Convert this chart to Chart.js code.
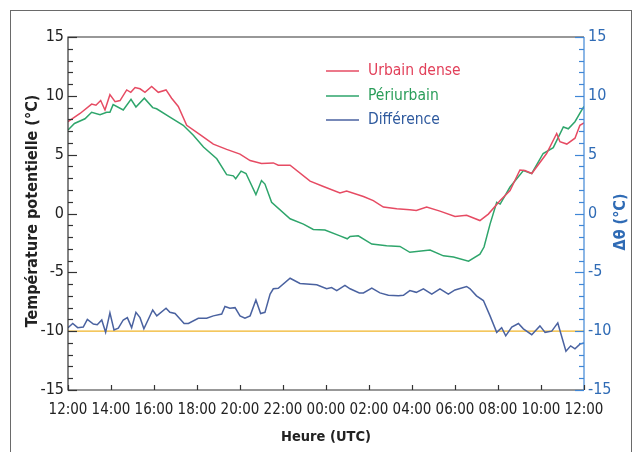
<!DOCTYPE html>
<html>
<head>
<meta charset="utf-8">
<script src="https://cdn.jsdelivr.net/npm/chart.js@4"></script>
<style>
  html, body { margin: 0; padding: 0; background: #fff; }
  #wrap { width: 636px; height: 452px; }
</style>
</head>
<body>
<div id="wrap"><canvas id="chart" width="636" height="452"></canvas></div>
<script>
// heures depuis 12:00 UTC
const tickHours = [0, 2, 4, 6, 8, 10, 12, 14, 16, 18, 20, 22, 24];
const tickLabels = ["12:00", "14:00", "16:00", "18:00", "20:00", "22:00", "00:00", "02:00", "04:00", "06:00", "08:00", "10:00", "12:00"];

const urbainHours = [0, 0.56, 1.1, 1.3, 1.52, 1.72, 1.95, 2.19, 2.42, 2.73, 2.92, 3.12, 3.35, 3.58, 3.89, 4.2, 4.56, 4.82, 5.13, 5.52, 6.14, 6.76, 7.38, 8.0, 8.47, 9.0, 9.55, 9.78, 10.33, 11.26, 11.88, 12.65, 12.96, 13.74, 14.2, 14.67, 15.29, 15.9, 16.2, 16.68, 17.3, 18.0, 18.54, 19.16, 19.55, 20.1, 20.56, 21.02, 21.25, 21.57, 22.26, 22.73, 22.88, 23.2, 23.58, 23.81, 24];
const urbainValues = [7.8, 8.5, 9.3, 9.2, 9.6, 8.8, 10.1, 9.5, 9.6, 10.5, 10.3, 10.7, 10.6, 10.3, 10.8, 10.3, 10.5, 9.8, 9.1, 7.5, 6.7, 5.9, 5.45, 5.05, 4.5, 4.25, 4.3, 4.1, 4.1, 2.75, 2.3, 1.75, 1.9, 1.45, 1.1, 0.55, 0.4, 0.32, 0.26, 0.55, 0.2, -0.25, -0.15, -0.6, -0.05, 1.1, 1.95, 3.7, 3.65, 3.4, 5.1, 6.8, 6.1, 5.9, 6.4, 7.5, 7.7];

const periHours = [0, 0.3, 0.79, 1.1, 1.49, 1.8, 1.95, 2.1, 2.57, 2.93, 3.16, 3.55, 3.94, 4.12, 4.74, 5.36, 5.83, 6.3, 6.92, 7.38, 7.69, 7.8, 8.05, 8.28, 8.74, 9.0, 9.16, 9.47, 10.33, 10.95, 11.41, 11.95, 12.65, 12.99, 13.12, 13.5, 14.13, 14.82, 15.44, 15.9, 16.84, 17.46, 17.93, 18.63, 19.16, 19.35, 19.63, 19.94, 20.1, 20.56, 21.18, 21.57, 22.1, 22.57, 23.04, 23.27, 23.58, 23.9, 24];
const periValues = [7.1, 7.65, 8.05, 8.6, 8.4, 8.6, 8.6, 9.25, 8.8, 9.7, 9.05, 9.8, 9.0, 8.9, 8.2, 7.5, 6.65, 5.65, 4.65, 3.3, 3.2, 2.95, 3.6, 3.4, 1.6, 2.8, 2.5, 0.95, -0.45, -0.9, -1.35, -1.4, -1.9, -2.15, -1.95, -1.9, -2.6, -2.75, -2.8, -3.3, -3.1, -3.6, -3.7, -4.05, -3.45, -2.85, -0.9, 0.95, 0.8, 2.25, 3.65, 3.4, 5.1, 5.6, 7.35, 7.2, 7.8, 8.8, 9.1];

const diffHours = [0, 0.22, 0.45, 0.71, 0.9, 1.18, 1.36, 1.57, 1.75, 1.95, 2.14, 2.34, 2.57, 2.76, 2.96, 3.16, 3.35, 3.53, 3.94, 4.13, 4.56, 4.74, 4.98, 5.4, 5.6, 6.06, 6.45, 6.76, 7.15, 7.3, 7.53, 7.77, 8.0, 8.23, 8.47, 8.74, 8.96, 9.16, 9.4, 9.55, 9.78, 10.33, 10.79, 11.57, 12.03, 12.26, 12.5, 12.88, 13.12, 13.55, 13.74, 14.13, 14.51, 14.9, 15.37, 15.6, 15.9, 16.2, 16.53, 16.92, 17.3, 17.69, 18.0, 18.54, 18.7, 19.0, 19.32, 19.63, 19.94, 20.17, 20.36, 20.64, 20.95, 21.18, 21.57, 21.95, 22.19, 22.5, 22.78, 23.16, 23.38, 23.58, 23.81, 24];
const diffValues = [-9.7, -9.35, -9.7, -9.65, -9.0, -9.4, -9.45, -9.05, -10.1, -8.45, -9.9, -9.75, -9.05, -8.85, -9.7, -8.4, -8.85, -9.8, -8.2, -8.7, -8.05, -8.4, -8.5, -9.35, -9.35, -8.9, -8.9, -8.7, -8.55, -7.9, -8.05, -8.0, -8.7, -8.9, -8.7, -7.35, -8.5, -8.4, -6.85, -6.4, -6.35, -5.5, -5.95, -6.05, -6.4, -6.3, -6.55, -6.1, -6.4, -6.75, -6.75, -6.35, -6.75, -6.95, -7.0, -6.95, -6.55, -6.7, -6.4, -6.85, -6.4, -6.85, -6.5, -6.2, -6.4, -7.0, -7.4, -8.7, -10.1, -9.7, -10.4, -9.65, -9.35, -9.8, -10.3, -9.55, -10.1, -10.0, -9.3, -11.7, -11.25, -11.5, -11.1, -11.0];

const refLine = -10;

const seriesNames = ["Urbain dense", "Périurbain", "Différence"];
const seriesColors = ["#e64b63", "#2ea56b", "#4a62a0"];
const legendTextColors = ["#e2405a", "#2a9d5a", "#2f5a9e"];

const FONT = "'Liberation Sans Narrow', 'DejaVu Sans Condensed', sans-serif";

function pts(hs, vs) {
    return hs.map((h, i) => ({ x: h, y: vs[i] }));
}

const framePlugin = {
    id: "frame",
    afterDraw(chart) {
        const ctx = chart.ctx;
        const a = chart.chartArea;
        const y = chart.scales.y;
        const x = chart.scales.x;
        ctx.save();

        // cadre extérieur
        ctx.strokeStyle = "#6a6a6a";
        ctx.lineWidth = 1;
        ctx.strokeRect(10.5, 10.5, 621, 500);

        // cadre du graphique
        ctx.strokeStyle = "#333";
        ctx.lineWidth = 1.2;
        ctx.beginPath();
        ctx.moveTo(a.right, a.top);
        ctx.lineTo(a.left, a.top);
        ctx.lineTo(a.left, a.bottom);
        ctx.lineTo(a.right, a.bottom);
        ctx.stroke();
        ctx.strokeStyle = "#3f86d6";
        ctx.beginPath();
        ctx.moveTo(a.right, a.top);
        ctx.lineTo(a.right, a.bottom);
        ctx.stroke();

        // graduations
        for (let v = -15; v <= 15; v++) {
            const py = Math.round(y.getPixelForValue(v)) + 0.5;
            const len = v % 5 === 0 ? 9 : 5;
            ctx.strokeStyle = "#333";
            ctx.beginPath();
            ctx.moveTo(a.left, py);
            ctx.lineTo(a.left + len, py);
            ctx.stroke();
            ctx.strokeStyle = "#3f86d6";
            ctx.beginPath();
            ctx.moveTo(a.right, py);
            ctx.lineTo(a.right - len, py);
            ctx.stroke();
        }
        ctx.strokeStyle = "#333";
        tickHours.forEach(h => {
            const px = Math.round(x.getPixelForValue(h)) + 0.5;
            ctx.beginPath();
            ctx.moveTo(px, a.bottom);
            ctx.lineTo(px, a.bottom - 5);
            ctx.stroke();
        });

        // légende
        ctx.font = "15.5px " + FONT;
        ctx.textBaseline = "middle";
        ctx.textAlign = "left";
        const legY = [71, 96, 120];
        seriesNames.forEach((name, i) => {
            ctx.strokeStyle = seriesColors[i];
            ctx.lineWidth = 1.5;
            ctx.beginPath();
            ctx.moveTo(326, legY[i]);
            ctx.lineTo(359, legY[i]);
            ctx.stroke();
            ctx.fillStyle = legendTextColors[i];
            ctx.fillText(name, 368, legY[i]);
        });

        // titres d'axes
        ctx.fillStyle = "#222";
        ctx.font = "bold 14.5px " + FONT;
        ctx.textAlign = "center";
        ctx.fillText("Heure (UTC)", (a.left + a.right) / 2, 437);
        ctx.font = "bold 16px " + FONT;
        ctx.save();
        ctx.translate(33, 211);
        ctx.rotate(-Math.PI / 2);
        ctx.fillText("Température potentielle (°C)", 0, 0);
        ctx.restore();
        ctx.save();
        ctx.translate(621, 222);
        ctx.rotate(-Math.PI / 2);
        ctx.fillStyle = "#2f6bb5";
        ctx.fillText("Δθ (°C)", 0, 0);
        ctx.restore();

        ctx.restore();
    }
};

const lineStyle = { fill: false, pointRadius: 0, borderWidth: 1.5, tension: 0 };

new Chart(document.getElementById("chart"), {
    type: "line",
    data: {
        datasets: [
            { label: seriesNames[0], data: pts(urbainHours, urbainValues), borderColor: seriesColors[0], ...lineStyle },
            { label: seriesNames[1], data: pts(periHours, periValues), borderColor: seriesColors[1], ...lineStyle },
            { label: seriesNames[2], data: pts(diffHours, diffValues), borderColor: seriesColors[2], yAxisID: "y2", ...lineStyle },
            { label: "ref", data: pts([0, 24], [refLine, refLine]), borderColor: "#f0b428", yAxisID: "y2", fill: false, pointRadius: 0, borderWidth: 1.2, order: 5 }
        ]
    },
    options: {
        responsive: false,
        animation: false,
        layout: { padding: { top: 37, left: 0, right: 0, bottom: 0 } },
        plugins: {
            legend: { display: false },
            tooltip: { enabled: false }
        },
        scales: {
            x: {
                type: "linear",
                min: 0,
                max: 24,
                afterBuildTicks: s => { s.ticks = tickHours.map(v => ({ value: v })); },
                afterFit: s => { s.height = 62; },
                grid: { display: false, drawTicks: false },
                border: { display: false },
                ticks: {
                    padding: 11,
                    color: "#222",
                    font: { family: FONT, size: 15 },
                    maxRotation: 0,
                    autoSkip: false,
                    callback: v => tickLabels[tickHours.indexOf(v)]
                }
            },
            y: {
                position: "left",
                min: -15,
                max: 15,
                afterFit: s => { s.width = 68; },
                grid: { display: false, drawTicks: false },
                border: { display: false },
                ticks: { stepSize: 5, padding: 4, color: "#222", font: { family: FONT, size: 16 } }
            },
            y2: {
                position: "right",
                min: -15,
                max: 15,
                afterFit: s => { s.width = 52; },
                grid: { display: false, drawTicks: false },
                border: { display: false },
                ticks: { stepSize: 5, padding: 4, color: "#2f6bb5", font: { family: FONT, size: 16 } }
            }
        }
    },
    plugins: [framePlugin]
});
</script>
</body>
</html>
